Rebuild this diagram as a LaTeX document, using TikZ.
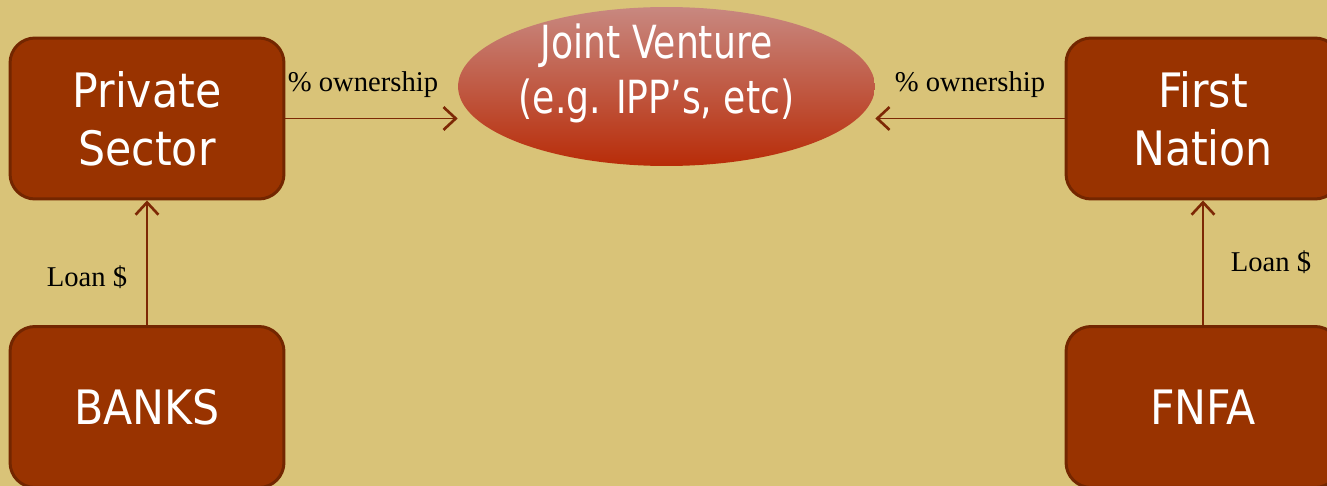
\documentclass[tikz,border=0pt]{standalone}
\usepackage{fontspec}
\setmainfont{Liberation Serif}
\newfontfamily\boxfont{DejaVu Sans Condensed}
\newfontfamily\venturefont[FakeStretch=0.88]{DejaVu Sans Condensed}
\usetikzlibrary{arrows.meta,shapes.geometric,positioning}

\definecolor{bgsand}{RGB}{217,195,120}
\definecolor{boxfill}{RGB}{153,51,0}
\definecolor{boxline}{RGB}{115,38,0}
\definecolor{arrowbrown}{RGB}{125,40,5}
\definecolor{jvtop}{RGB}{200,136,128}
\definecolor{jvbottom}{RGB}{184,44,8}

\tikzset{
  party/.style={draw=boxline, line width=1.7pt, fill=boxfill, rounded corners=0.5cm,
    minimum width=5.48cm, minimum height=3.22cm, align=center, text=white,
    font=\boxfont\fontsize{27}{33}\selectfont},
  venture/.style={ellipse, top color=jvtop, bottom color=jvbottom,
    minimum width=8.34cm, minimum height=3.18cm, inner sep=0pt},
  flow/.style={draw=arrowbrown, line width=1.1pt,
    -{Straight Barb[length=7pt,width=13pt,line width=1.5pt]}},
  share/.style={font=\fontsize{16.3}{18}\selectfont}
}

\begin{document}
\begin{tikzpicture}[x=0.02cm,y=-0.02cm]
    \fill[bgsand] (0,0) rectangle (1327,486);
    \useasboundingbox (0,0) rectangle (1327,486);
    % the four parties
    \node[party] (private) at (147,118.5) {Private\\Sector};
    \node[party] (banks) at (147,407) {BANKS};
    \node[party] (nation) at (1203,118.5) {First\\Nation};
    \node[party] (fnfa) at (1203,407) {FNFA};
    % the joint venture
    \node[venture] (jv) at (666.5,86.5) {};
    \node[align=center, text=white, font=\venturefont\fontsize{26}{31}\selectfont]
        (jvtext) at ([xshift=-0.2cm,yshift=0.26cm]jv.center) {Joint Venture\\(e.g. IPP’s, etc)};
    % flows
    \draw[flow] (private.east) -- (private.east -| jv.west);
    \draw[flow] (nation.west) -- (nation.west -| jv.east);
    \draw[flow] (banks) -- (private);
    \draw[flow] (fnfa) -- (nation);
    \node[share] (ownleft) at (363,85) {\% ownership};
    \node[share] (ownright) at (970,85) {\% ownership};
    \node[share] (loanleft) at (87,277) {Loan \$};
    \node[share] (loanright) at (1271,262) {Loan \$};
\end{tikzpicture}
\end{document}
